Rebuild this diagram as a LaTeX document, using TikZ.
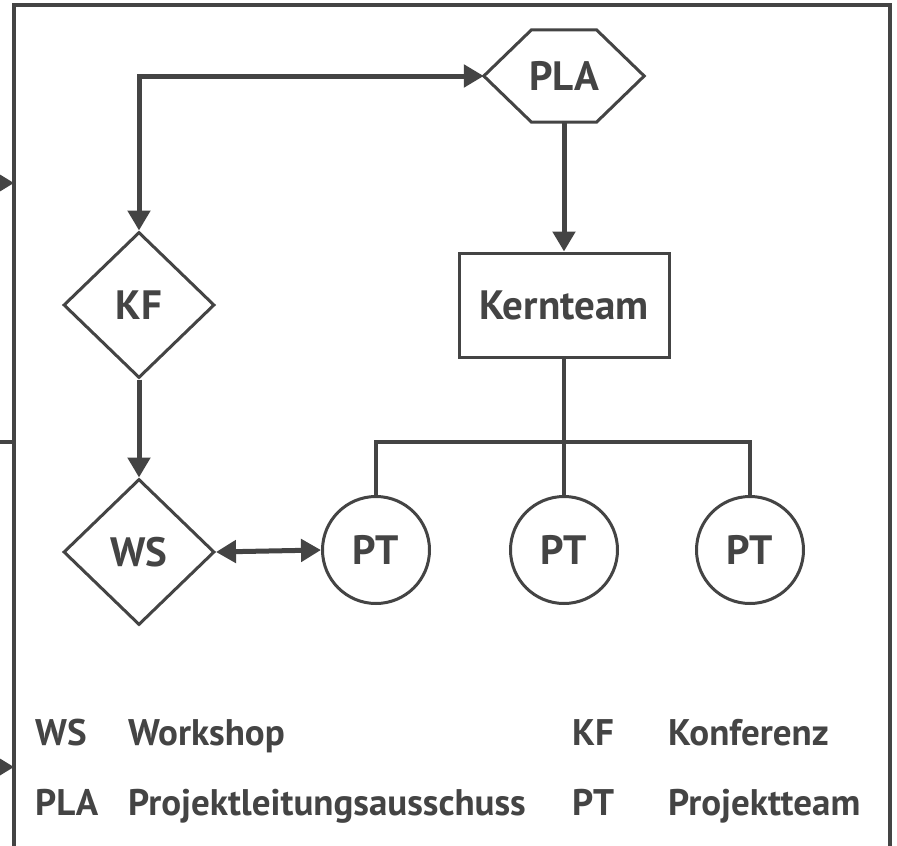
\documentclass[tikz,border=0pt]{standalone}
\usepackage{fontspec}
\setmainfont{PT Sans}
\usetikzlibrary{arrows.meta,shapes.geometric,calc}
\definecolor{ink}{HTML}{444444}
\tikzset{
  base/.style={font=\bfseries\fontsize{41}{49}\selectfont, text=ink},
  diamondbox/.style={base, shape=diamond, draw=ink, line width=3pt, minimum width=151pt, minimum height=146pt, inner sep=0pt},
  roundbox/.style={base, shape=circle, draw=ink, line width=3pt, minimum size=107pt, inner sep=0pt},
  rectbox/.style={base, shape=rectangle, draw=ink, line width=3pt, minimum width=210pt, minimum height=104pt, inner sep=0pt},
  hexholder/.style={base, shape=rectangle, minimum width=160pt, minimum height=92pt, inner sep=0pt},
  hexline/.style={draw=ink, line width=3pt, line join=miter},
  link/.style={draw=ink, line width=5pt, -{Triangle[length=20pt,width=22pt]}},
  bilink/.style={draw=ink, line width=5pt, {Triangle[length=20pt,width=22pt]}-{Triangle[length=20pt,width=22pt]}},
  tree/.style={draw=ink, line width=4.5pt},
  stub/.style={draw=ink, line width=4.5pt},
  stubarrow/.style={draw=ink, line width=4.5pt, -{Triangle[length=15pt,width=17pt]}},
  legend/.style={font=\bfseries\fontsize{37}{44}\selectfont, text=ink, anchor=base west, inner sep=0pt},
}
\begin{document}
\begin{tikzpicture}[x=1pt,y=-1pt]
\useasboundingbox (0,0) rectangle (897,846);
\clip (0,0) rectangle (897,846);
\fill[white] (0,0) rectangle (897,846);

% outer frame (its lower edge lies below the visible area)
\draw[ink, line width=3.5pt] (14,5) rectangle (890,870);

% stubs entering the frame from the left
\coordinate (inA) at (-20,183);
\coordinate (inB) at (-20,442);
\coordinate (inC) at (-20,767);
\coordinate (edgeA) at (14,183);
\coordinate (edgeB) at (14,442);
\coordinate (edgeC) at (14,767);
\draw[stubarrow] (inA) -- (edgeA);
\draw[stub] (inB) -- (edgeB);
\draw[stubarrow] (inC) -- (edgeC);

% nodes
\node[hexholder] (PLA) at (564,76) {PLA};
\draw[hexline] (PLA.west) -- ($(PLA.north)+(-32.5,0)$) -- ($(PLA.north)+(32.5,0)$)
  -- (PLA.east) -- ($(PLA.south)+(32.5,0)$) -- ($(PLA.south)+(-32.5,0)$) -- cycle;
\node[diamondbox] (KF) at (139,305) {KF};
\node[diamondbox] (WS) at (139,552) {WS};
\node[rectbox] (Kern) at (564,305) {Kernteam};
\node[roundbox] (PT1) at (376,550) {PT};
\node[roundbox] (PT2) at (564,550) {PT};
\node[roundbox] (PT3) at (750,550) {PT};

% connectors
\draw[bilink] (KF.north) |- (PLA.west);
\draw[link] (PLA.south) -- (Kern.north);
\draw[link] (KF.south) -- (WS.north);
\draw[bilink] (WS.east) -- (PT1.west);
\coordinate (bus) at (564,442);
\draw[tree] (Kern.south) -- (PT2.north);
\draw[tree, line join=miter] (PT1.north) |- (bus) -| (PT3.north);

% legend
\node[legend] (kWS) at (35,745) {WS};
\node[legend] (vWS) at (128,745) {Workshop};
\node[legend] (kPLA) at (35,815) {PLA};
\node[legend] (vPLA) at (128,815) {Projektleitungsausschuss};
\node[legend] (kKF) at (572,745) {KF};
\node[legend] (vKF) at (668,745) {Konferenz};
\node[legend] (kPT) at (572,815) {PT};
\node[legend] (vPT) at (668,815) {Projektteam};
\end{tikzpicture}
\end{document}
